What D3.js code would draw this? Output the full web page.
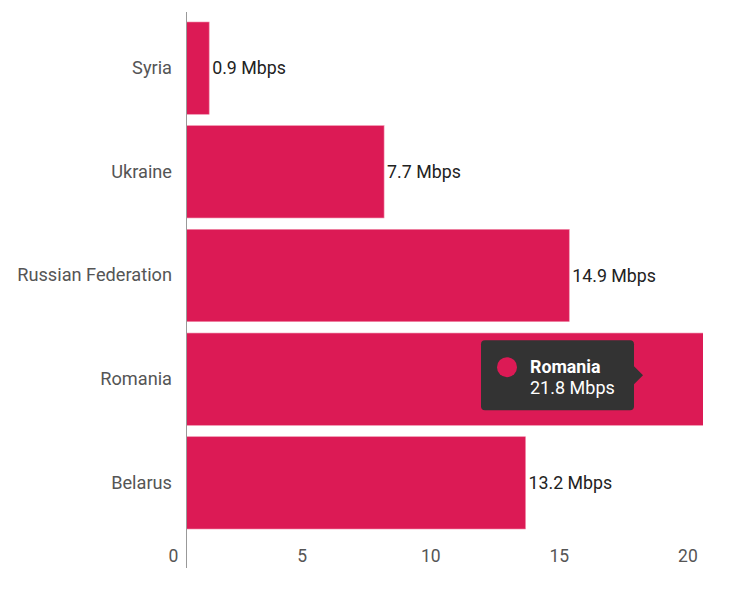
<!DOCTYPE html>
<html>
<head>
<meta charset="utf-8">
<script src="https://cdn.jsdelivr.net/npm/d3@7"></script>
<style>
  body { margin: 0; background: #fff; }
  text { font-family: Roboto, "Noto Sans", sans-serif; }
</style>
</head>
<body>
<div id="chart"></div>
<script>
// --> DATA
var countries = ["Syria", "Ukraine", "Russian Federation", "Romania", "Belarus"];
var speeds = [0.9, 7.7, 14.9, 21.8, 13.2];
var ticks = [0, 5, 10, 15, 20];
var unit = "Mbps";
var hovered = "Romania";

var width = 740,
    height = 590;
var margin = { top: 22, right: 37, bottom: 61, left: 186 };
var fontSize = 17.5;

var svg = d3.select("#chart").append("svg")
    .attr("width", width)
    .attr("height", height);

var x = d3.scaleLinear()
    .domain([0, 20.1])
    .range([margin.left, width - margin.right]);

var y = d3.scaleBand()
    .domain(countries)
    .range([margin.top, height - margin.bottom])
    .paddingInner(0.11)
    .paddingOuter(0);

var barColor = "#dc1a55";

// clip so the long bar stops at the plot edge
svg.append("clipPath")
    .attr("id", "plot-clip")
    .append("rect")
    .attr("x", margin.left)
    .attr("y", 0)
    .attr("width", width - margin.right - margin.left)
    .attr("height", height);

var rows = countries.map(function(c, i) { return { name: c, value: speeds[i] }; });

svg.append("g")
    .attr("clip-path", "url(#plot-clip)")
    .selectAll("rect")
    .data(rows)
    .enter().append("rect")
    .attr("x", x(0))
    .attr("y", function(d) { return y(d.name); })
    .attr("width", function(d) { return x(d.value) - x(0); })
    .attr("height", y.bandwidth())
    .attr("fill", barColor)
    .attr("stroke", "#f08aa8")
    .attr("stroke-width", 0.6);

// value labels (not for the hovered one, tooltip covers it)
svg.append("g")
    .selectAll("text")
    .data(rows.filter(function(d) { return d.name != hovered; }))
    .enter().append("text")
    .attr("x", function(d) { return x(d.value) + 3; })
    .attr("y", function(d) { return y(d.name) + y.bandwidth() / 2; })
    .attr("dy", "0.35em")
    .attr("font-size", 17.8)
    .attr("fill", "#222")
    .text(function(d) { return d.value + " " + unit; });

// y axis
var yAxis = svg.append("g")
    .attr("transform", "translate(" + margin.left + ",0)")
    .call(d3.axisLeft(y).tickSize(0).tickPadding(14));
yAxis.select(".domain").remove();
yAxis.selectAll("text")
    .attr("font-size", 18.2)
    .attr("fill", "#555")
    .style("font-family", "Roboto, sans-serif");

svg.append("line")
    .attr("x1", x(0) + 0.5)
    .attr("x2", x(0) + 0.5)
    .attr("y1", 12)
    .attr("y2", 568)
    .attr("stroke", "#999")
    .attr("stroke-width", 1);

// x axis
var xAxis = svg.append("g")
    .attr("transform", "translate(0," + (height - 33) + ")")
    .call(d3.axisBottom(x).tickValues(ticks).tickSize(0).tickPadding(0));
xAxis.select(".domain").remove();
xAxis.selectAll("text")
    .attr("font-size", fontSize)
    .attr("fill", "#555")
    .attr("dx", -13)
    .attr("dy", "0.3em")
    .style("font-family", "Roboto, sans-serif");

// tooltip on Romania
var tip = rows.filter(function(d) { return d.name == hovered; })[0];
var tipCy = y(tip.name) + y.bandwidth() / 2;
var tipX = 481, tipW = 153, tipH = 70;
var tipG = svg.append("g");
tipG.append("rect")
    .attr("x", tipX)
    .attr("y", tipCy - tipH / 2 - 4)
    .attr("width", tipW)
    .attr("height", tipH)
    .attr("rx", 4)
    .attr("fill", "#333333");
tipG.append("path")
    .attr("d", "M" + (tipX + tipW) + "," + (tipCy - 13) + " l9,9 l-9,9 z")
    .attr("fill", "#333333");
tipG.append("circle")
    .attr("cx", tipX + 26)
    .attr("cy", tipCy - 12)
    .attr("r", 10)
    .attr("fill", barColor);
tipG.append("text")
    .attr("x", tipX + 49)
    .attr("y", tipCy - 6)
    .attr("font-size", 17.8)
    .attr("font-weight", "bold")
    .attr("fill", "#fff")
    .text(tip.name);
tipG.append("text")
    .attr("x", tipX + 49)
    .attr("y", tipCy + 15)
    .attr("font-size", 18)
    .attr("fill", "#fff")
    .text(tip.value + " " + unit);
</script>
</body>
</html>
